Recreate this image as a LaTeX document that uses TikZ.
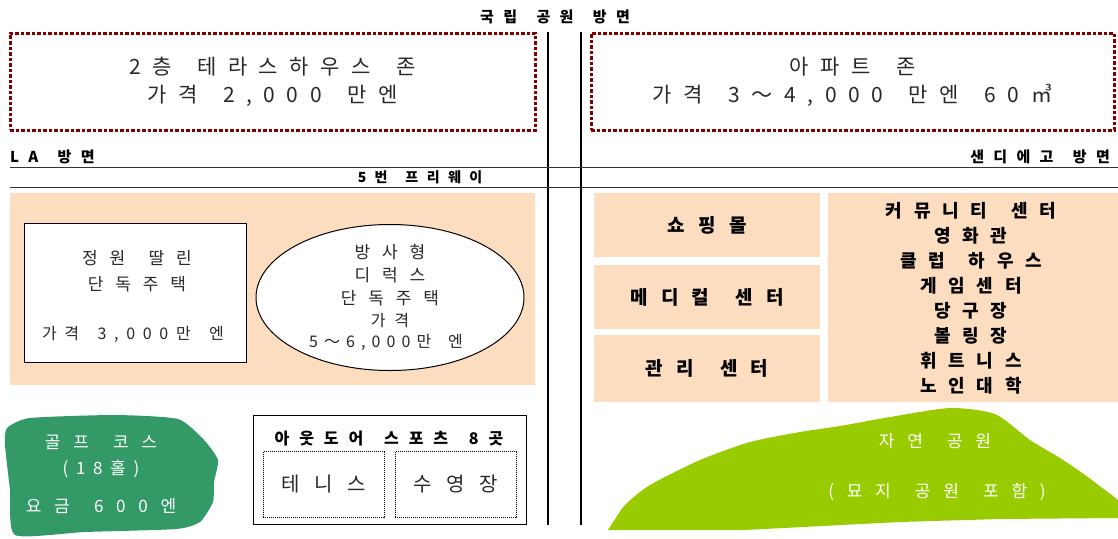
\documentclass[tikz,border=0pt]{standalone}
\usepackage{fontspec}
\newfontfamily\kr{Noto Sans CJK KR}
\usetikzlibrary{shapes.geometric}
\newcommand\ws{\ \hspace{0.45em}}
\definecolor{peach}{RGB}{252,221,192}
\definecolor{dred}{RGB}{128,0,0}
\definecolor{golf}{RGB}{51,153,102}
\definecolor{hill}{RGB}{153,204,0}
\definecolor{ink}{RGB}{40,40,40}
\tikzset{
  head/.style={inner sep=0pt, font=\kr\bfseries\fontsize{15}{15}\selectfont\addfontfeature{LetterSpace=62}},
  bigtxt/.style={align=center, text=ink, font=\kr\fontsize{21}{28}\selectfont\addfontfeature{LetterSpace=55}},
  dbox/.style={draw=dred, line width=3pt, dash pattern=on 3.5pt off 2pt, bigtxt},
  zone/.style={fill=peach, draw=none},
  thin/.style={align=center, text=ink, font=\kr\fontsize{17}{24}\selectfont\addfontfeature{LetterSpace=70}},
  boldtxt/.style={align=center, font=\kr\bfseries\fontsize{18}{25}\selectfont\addfontfeature{LetterSpace=65}},
  colbold/.style={font=\kr\bfseries\fontsize{19}{19}\selectfont\addfontfeature{LetterSpace=70}},
  whitetxt/.style={align=center, text=white, font=\kr\fontsize{17}{26}\selectfont\addfontfeature{LetterSpace=75}},
  road/.style={draw=black!80, line width=1pt},
  divider/.style={draw=black, line width=1.2pt},
  sportbox/.style={draw=black, densely dotted, line width=1pt, minimum width=121pt, minimum height=66pt,
     text=ink, font=\kr\fontsize{20}{20}\selectfont\addfontfeature{LetterSpace=72}},
}
\begin{document}
\begin{tikzpicture}[x=1pt,y=-1pt]
\useasboundingbox (0,0) rectangle (1118,538);

% title
\node[head] (title) at (555,17) {국립\ws 공원\ws 방면};

% dividers
\coordinate (v1t) at (548,32); \coordinate (v1b) at (548,525);
\coordinate (v2t) at (581,32); \coordinate (v2b) at (581,525);
\draw[divider] (v1t) -- (v1b);
\draw[divider] (v2t) -- (v2b);

% top zones
\node[dbox, minimum width=525pt, minimum height=97pt] (terrace) at (272.5,81.5)
  {2층\ws 테라스하우스\ws 존\\가격\ws 2,000\ws 만엔};
\node[dbox, minimum width=523pt, minimum height=97pt] (apart) at (852.5,81.5)
  {아파트\ws 존\\가격\ws 3～4,000\ws 만엔\ws 60㎥};

% directions
\node[head, anchor=west] (la) at (10,157) {LA\ws 방면};
\node[head, anchor=east] (sd) at (1110,157) {샌디에고\ws 방면};

% freeway
\coordinate (r1l) at (10,167); \coordinate (r1r) at (1118,167);
\coordinate (r2l) at (10,187); \coordinate (r2r) at (1118,187);
\draw[road] (r1l) -- (r1r);
\draw[road] (r2l) -- (r2r);
\node[head, font=\kr\bfseries\fontsize{14}{14}\selectfont\addfontfeature{LetterSpace=60}] (fw) at (420,177.5) {5번\ws 프리웨이};

% left residential zone
\node[zone, minimum width=525pt, minimum height=192pt] (lzone) at (272.5,289) {};
\node[draw=black, fill=white, line width=1pt, minimum width=222pt, minimum height=139pt] (garden) at (135,292.5) {};
\node[thin, anchor=base] (g1) at (137,264) {정원\ws 딸린};
\node[thin, anchor=base] (g2) at (137,290) {단독주택};
\node[thin, anchor=base, font=\kr\fontsize{16}{16}\selectfont\addfontfeature{LetterSpace=48}] (g3) at (133,339) {가격\ws 3,000만\ws 엔};
\node[ellipse, draw=black, fill=white, line width=1pt, minimum width=268pt, minimum height=146pt] (radial) at (390,297.5) {};
\node[thin, anchor=base] (e1) at (390,258) {방사형};
\node[thin, anchor=base] (e2) at (390,281) {디럭스};
\node[thin, anchor=base] (e3) at (390,304) {단독주택};
\node[thin, anchor=base, font=\kr\fontsize{16}{16}\selectfont\addfontfeature{LetterSpace=55}] (e4) at (390,326) {가격};
\node[thin, anchor=base, font=\kr\fontsize{16}{16}\selectfont\addfontfeature{LetterSpace=38}] (e5) at (386,347) {5～6,000만\ws 엔};

% right facilities
\node[zone, colbold, minimum width=226pt, minimum height=64pt] (shop) at (707,225) {쇼핑몰};
\node[zone, colbold, minimum width=226pt, minimum height=64pt] (med) at (707,297) {메디컬\ws 센터};
\node[zone, colbold, minimum width=226pt, minimum height=67pt] (mgmt) at (707,368.5) {관리\ws 센터};
\node[zone, minimum width=290pt, minimum height=209pt] (comm) at (973,297.5) {};
\node[boldtxt, anchor=north] (commtxt) at (971,199)
  {커뮤니티\ws 센터\\영화관\\클럽\ws 하우스\\게임센터\\당구장\\볼링장\\휘트니스\\노인대학};

% golf course
\fill[golf] plot[smooth cycle, tension=0.35] coordinates
  {(7,428) (30,418) (115,415) (178,419) (204,440) (218,460) (214,482) (213,502) (200,522) (176,529) (85,532) (15,535) (10,490) (5,445)};
\node[whitetxt] (golftxt) at (101,474) {골프\ws 코스\\{\addfontfeature{LetterSpace=45}(18홀)}\\[12pt]요금\ws 600엔};

% outdoor sports
\node[draw=black, line width=1pt, minimum width=273pt, minimum height=109pt] (outdoor) at (389.5,469.5) {};
\node[head, font=\kr\bfseries\fontsize{16}{16}\selectfont\addfontfeature{LetterSpace=62}] (otitle) at (389,439) {아웃도어\ws 스포츠\ws 8곳};
\node[sportbox] (tennis) at (323.5,484.5) {테니스};
\node[sportbox] (pool) at (455.5,484.5) {수영장};

% nature park
\fill[hill] plot[smooth, tension=0.4] coordinates
  {(608,530) (625,505) (650,485) (700,460) (750,442) (800,432) (840,426) (890,417) (950,408) (995,414) (1030,440) (1060,458) (1085,475) (1105,490) (1118,500)}
  -- (1118,518) -- (1000,519) -- (900,522) -- (745,530) -- cycle;
\node[whitetxt] (park1) at (935,441) {자연\ws 공원};
\node[whitetxt] (park2) at (937,492) {(묘지\ws 공원\ws 포함)};
\end{tikzpicture}
\end{document}
